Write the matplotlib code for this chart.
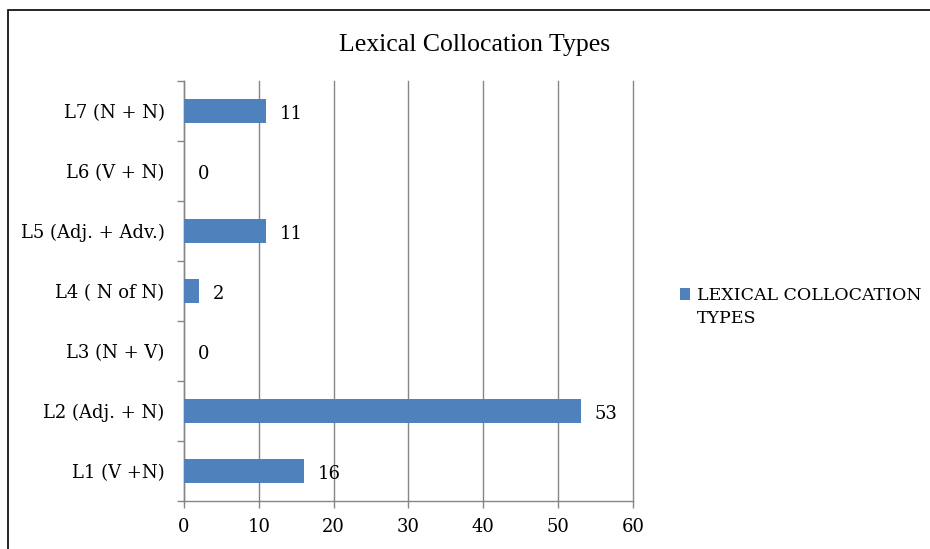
import matplotlib.pyplot as plt
from matplotlib.patches import Rectangle

# Collocation categories, bottom to top, and their counts
categories = ["L1 (V +N)", "L2 (Adj. + N)", "L3 (N + V)", "L4 ( N of N)",
              "L5 (Adj. + Adv.)", "L6 (V + N)", "L7 (N + N)"]
counts = [16, 53, 0, 2, 11, 0, 11]
x_ticks = [0, 10, 20, 30, 40, 50, 60]
series_name = "LEXICAL COLLOCATION TYPES"

BAR_COLOR = "#4F81BD"
GRID_COLOR = "#868686"
LABEL_FONT = "DejaVu Serif"
LABEL_SIZE = 13


def main() -> None:
    fig = plt.figure(figsize=(9.3, 5.49), dpi=100)
    ax = fig.add_axes([0.1978, 0.0874, 0.4828, 0.7651])

    positions = list(range(len(categories)))
    bars = ax.barh(positions, counts, height=0.4, color=BAR_COLOR,
                   linewidth=0, zorder=3, label=series_name)

    # Value labels just to the right of each bar
    for pos, val in zip(positions, counts):
        ax.annotate(str(val), xy=(val, pos), xytext=(10, -2),
                    textcoords="offset points", va="center", ha="left",
                    fontsize=LABEL_SIZE, family=LABEL_FONT, color="black")

    ax.set_xlim(0, 60)
    ax.set_ylim(-0.5, len(categories) - 0.5)
    ax.set_xticks(x_ticks)
    ax.set_xticklabels([str(t) for t in x_ticks], family=LABEL_FONT,
                       fontsize=LABEL_SIZE)
    ax.set_yticks(positions)
    ax.set_yticklabels(categories, family=LABEL_FONT, fontsize=LABEL_SIZE)

    # Category separators as outward ticks on the value axis
    ax.set_yticks([p - 0.5 for p in positions] + [len(categories) - 0.5], minor=True)
    ax.tick_params(axis="y", which="major", length=0, pad=14)
    ax.tick_params(axis="y", which="minor", length=5, direction="out",
                   color=GRID_COLOR, width=1)
    ax.tick_params(axis="x", length=5, direction="out", color=GRID_COLOR,
                   width=1, pad=7)

    ax.xaxis.grid(True, color=GRID_COLOR, linewidth=1)
    for line in ax.get_xgridlines():
        line.set_clip_on(False)
    ax.set_axisbelow(True)
    for side in ("top", "right"):
        ax.spines[side].set_visible(False)
    for side in ("left", "bottom"):
        ax.spines[side].set_color(GRID_COLOR)
        ax.spines[side].set_linewidth(1)

    fig.text(0.51, 0.9185, "Lexical Collocation Types", ha="center", va="center",
             fontsize=18.5, family="Liberation Serif")

    # Legend with the series name wrapped onto two rows
    blank = Rectangle((0, 0), 1, 1, alpha=0)
    words = series_name.rsplit(" ", 1)
    fig.legend([bars, blank], words, loc="upper left",
               bbox_to_anchor=(0.731, 0.477), frameon=False,
               prop={"family": LABEL_FONT, "size": 12.5},
               handlelength=0.6, handleheight=0.6, handletextpad=0.4,
               labelspacing=0.35, borderpad=0, borderaxespad=0)

    # Chart frame
    fig.patches.append(Rectangle((8 / 930, -0.1), 1.2, 1.1 - 10 / 549,
                                 transform=fig.transFigure, fill=False,
                                 edgecolor="black", linewidth=1.2))

    fig.savefig("out.png", dpi=100)


if __name__ == "__main__":
    main()
